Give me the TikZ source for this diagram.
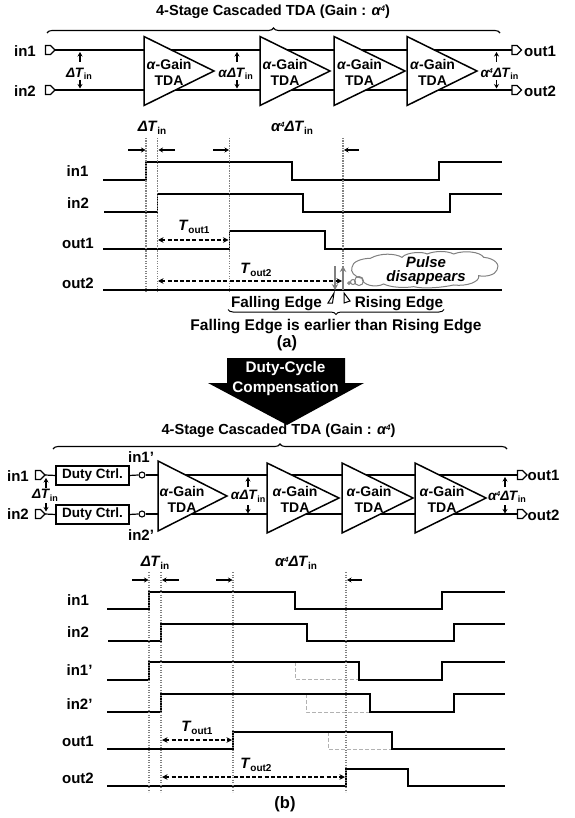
\documentclass[tikz,border=0pt]{standalone}
\usepackage{fontspec}
\setmainfont{Liberation Sans}
\usetikzlibrary{shapes.geometric,shapes.symbols,arrows.meta,backgrounds,decorations.pathreplacing}
\newcommand{\fs}[1]{\fontsize{#1}{#1}\selectfont}
\newcommand{\subsz}{10}
\newcommand{\supsz}{8}
\newcommand{\subt}[1]{\raisebox{-2.5pt}{\fs{\subsz}#1}}
\newcommand{\dTin}{\textit{Δ}\kern-.5pt\textit{T}\kern-.3pt\subt{in}}
\newcommand{\al}{\textit{α}}
\newcommand{\alfour}{\textit{α}\kern-.5pt\raisebox{4pt}{\fs{\supsz}\textit{4}}}
\newcommand{\tout}[1]{\textit{T}\kern-.3pt\subt{out#1}}
\tikzset{
 txt/.style={font=\bfseries\fs{14},inner sep=0,outer sep=0,align=center},
 lbl/.style={font=\bfseries\fs{15},inner sep=0,outer sep=0,align=center},
 dlt/.style={font={\renewcommand{\subsz}{9}\renewcommand{\supsz}{7}\bfseries\fs{13.6}},inner sep=0,outer sep=0,align=center},
 dlg/.style={font={\renewcommand{\subsz}{10}\renewcommand{\supsz}{7.5}\bfseries\fs{15}},inner sep=0,outer sep=0,align=center},
 ttl/.style={font=\bfseries\fs{14.6},inner sep=0,outer sep=0,align=center},
 tri/.style={draw,fill=white,line width=1.5pt,isosceles triangle,isosceles triangle stretches,inner sep=0,outer sep=0,minimum width=69pt,minimum height=70pt,anchor=apex},
 port/.style={draw,fill=white,line width=1.1pt,signal,signal to=east,signal from=nowhere,inner sep=0,outer sep=0,minimum width=9.5pt,minimum height=9pt},
 wire/.style={line width=1.2pt},
 wirethick/.style={line width=1.6pt},
 wave/.style={line width=1.4pt},
 waveb/.style={line width=1.8pt},
 dotl/.style={gray,dash pattern=on 1.2pt off 1.3pt,line width=1.2pt},
 ghost/.style={gray!60,dash pattern=on 4pt off 2pt,line width=1pt},
 tickarrow/.style={line width=1.2pt,-{Stealth[length=4.5pt,width=5pt]}},
 dimarrow/.style={line width=1.3pt,dash pattern=on 4pt off 2.2pt,{Stealth[length=5.5pt,width=5.5pt]}-{Stealth[length=5.5pt,width=5.5pt]}},
 bigbrace/.style={decorate,decoration={brace,amplitude=5pt},line width=1.1pt},
 grayarrow/.style={gray,line width=2pt,-{Stealth[length=6pt,width=6.5pt]}},
 pointer/.style={draw,fill=white,line width=1pt},
 dutybox/.style={draw,line width=1.6pt,inner sep=0,outer sep=0,minimum width=73pt,minimum height=19pt,font=\bfseries\fs{13.5}},
 openc/.style={circle,draw,fill=white,line width=1.1pt,inner sep=0,minimum size=6pt},
}
\begin{document}
\begin{tikzpicture}[x=1pt,y=-1pt]
\useasboundingbox (0,0) rectangle (574,818);
% ---- part (a) block
\node[ttl] (atitle) at (273,12) {4-Stage Cascaded TDA (Gain : \alfour)};
\coordinate (abl) at (47,33); \coordinate (abr) at (500,33);
\draw[bigbrace] (abl) -- (abr);
\node[lbl] (ain1) at (25,51.5) {in1};
\node[lbl] (ain2) at (25,91) {in2};
\node[port] (ap1) at (48,50) {};
\node[port] (ap2) at (48,90) {};
\node[tri] (aT1) at (214,71) {};
\node[tri] (aT2) at (330,71) {};
\node[tri,minimum height=71pt] (aT3) at (405,71) {};
\node[tri] (aT4) at (477,71) {};
\node[port] (ao1) at (514.5,50) {};
\node[port] (ao2) at (514.5,90) {};
\node[lbl] (aout1) at (540,51) {out1};
\node[lbl] (aout2) at (540,91) {out2};
\begin{scope}[on background layer]
\draw[wire] (ap1.east) -- (aT1.west |- ap1.east);
\draw[wire] (ap2.east) -- (aT1.west |- ap2.east);
\draw[wire] (aT1.west |- ap1.east) -- (aT2.west |- ap1.east);
\draw[wire] (aT1.west |- ap2.east) -- (aT2.west |- ap2.east);
\draw[wire] (aT2.west |- ap1.east) -- (aT3.west |- ap1.east);
\draw[wire] (aT2.west |- ap2.east) -- (aT3.west |- ap2.east);
\draw[wire] (aT3.west |- ap1.east) -- (aT4.west |- ap1.east);
\draw[wire] (aT3.west |- ap2.east) -- (aT4.west |- ap2.east);
\draw[wirethick] (aT4.west |- ao1.west) -- (ao1.west);
\draw[wire] (aT4.west |- ao2.west) -- (ao2.west);
\end{scope}
\foreach \n/\x in {1/169,2/285,3/359.5,4/432.5}{
  \node[txt] (atxt\n) at (\x,72) {\al-Gain\\[2pt]TDA};
}
\node[dlt] (ad1) at (79,74) {\dTin};
\node[dlt] (ad2) at (235.5,74) {\al\dTin};
\node[dlt] (ad3) at (499.5,74) {\alfour\dTin};
\foreach \x in {80,237,496.5}{
  \draw[tickarrow] (\x,62) -- (\x,52);
  \draw[tickarrow] (\x,80) -- (\x,88.5);
}
% ---- part (a) timing
\node[lbl] (al1) at (77.5,171) {in1};
\node[lbl] (al2) at (78,203) {in2};
\node[lbl] (al3) at (78,243) {out1};
\node[lbl] (al4) at (78,283) {out2};
\node[dlg] (adt) at (152,128) {\dTin};
\node[dlg] (adt4) at (292,128) {\alfour\dTin};
\draw[wave] (103,180) -- (146,180) -- (146,162) -- (292,162) -- (292,180) -- (439,180) -- (439,162) -- (502,162);
\draw[wave] (104,212) -- (157.5,212) -- (157.5,194) -- (303,194) -- (303,212) -- (450,212) -- (450,194) -- (502,194);
\draw[wave] (103,249) -- (229.5,249) -- (229.5,231) -- (325,231) -- (325,249) -- (502,249);
\draw[waveb] (103,290) -- (502,290);
\foreach \x/\b in {146/291,157.5/291,229.5/291,343/275}{\draw[dotl] (\x,138) -- (\x,\b);}
\draw[tickarrow] (128,150) -- (145.5,150);
\draw[tickarrow] (175,150) -- (158.5,150);
\draw[tickarrow] (213,150) -- (229,150);
\draw[tickarrow] (359,150) -- (344,150);
\coordinate (at1a) at (158,240); \coordinate (at1b) at (228.5,240);
\coordinate (at2a) at (158,281); \coordinate (at2b) at (342,281);
\draw[dimarrow] (at1a) -- (at1b);
\draw[dimarrow] (at2a) -- (at2b);
\node[dlg] (atl1) at (194,227) {\tout{1}};
\node[dlg] (atl2) at (256,270) {\tout{2}};
\draw[grayarrow] (335,266) -- (335,290);
\draw[grayarrow] (343,290) -- (343,266);
\draw[pointer] (334,293) -- (328,303) -- (332.5,303) -- cycle;
\draw[pointer] (344,293) -- (344,303) -- (350,301) -- cycle;
\node[font=\bfseries\fs{15.3},inner sep=0] (afall) at (276.5,303.5) {Falling Edge};
\node[font=\bfseries\fs{15.3},inner sep=0] (arise) at (399,303.5) {Rising Edge};
\draw[decorate,decoration={brace,amplitude=5pt,mirror},line width=1pt] (228,309.5) -- (444,309.5);
\node[font=\bfseries\fs{15.5},inner sep=0] (aearly) at (336,327) {Falling Edge is earlier than Rising Edge};
\node[lbl,font=\bfseries\fs{16.5}] (acap) at (287,343) {(a)};
\begin{scope}[shift={(287,130)},x=.3333pt,y=-.3333pt]
\draw[gray,fill=white,line width=1pt] (195,412)
 .. controls (195,395) and (225,385) .. (250,385)
 .. controls (280,368) and (325,370) .. (345,382)
 .. controls (360,365) and (410,365) .. (420,372)
 .. controls (445,362) and (480,362) .. (500,372)
 .. controls (530,360) and (580,365) .. (590,382)
 .. controls (625,385) and (640,405) .. (630,420)
 .. controls (625,435) and (595,442) .. (575,437)
 .. controls (580,455) and (540,470) .. (500,465)
 .. controls (470,472) and (410,478) .. (380,470)
 .. controls (350,475) and (310,472) .. (290,462)
 .. controls (265,475) and (225,465) .. (225,445)
 .. controls (200,440) and (190,425) .. (195,412) -- cycle;
\end{scope}
\node[align=center,inner sep=0,font=\bfseries\itshape\fontsize{15}{14}\selectfont] (apulse) at (426,271) {Pulse\\disappears};
\draw[gray,line width=1pt] (359,281) circle[radius=4.5pt];
\draw[gray,line width=1pt] (353,282) circle[radius=2.5pt];
\draw[gray,line width=1pt] (349,283) circle[radius=1.3pt];
% ---- big arrow
\fill[black] (227,358) -- (345,358) -- (345,383) -- (364,383) -- (287,425) -- (208,383) -- (227,383) -- cycle;
\node[lbl,font=\bfseries\fs{15.3},text=white] (bigt) at (285.5,378.5) {Duty-Cycle\\[4pt]Compensation};
% ---- part (b) block
\node[ttl] (btitle) at (278.5,431) {4-Stage Cascaded TDA (Gain : \alfour)};
\coordinate (bbl) at (53,449); \coordinate (bbr) at (507,449);
\draw[bigbrace] (bbl) -- (bbr);
\node[lbl] (bin1) at (18,476) {in1};
\node[lbl] (bin2) at (18,514.5) {in2};
\node[port] (bp1) at (38,475) {};
\node[port] (bp2) at (38,514) {};
\node[dutybox] (bd1) at (92.5,475.5) {Duty Ctrl.};
\node[dutybox] (bd2) at (92.5,514.5) {Duty Ctrl.};
\node[openc] (bc1) at (142,475) {};
\node[openc] (bc2) at (142,514) {};
\node[lbl] (binp1) at (141,457) {in1'};
\node[lbl] (binp2) at (141,535) {in2'};
\node[tri,minimum width=70pt,minimum height=69pt] (bT1) at (227,496) {};
\node[tri,minimum width=70pt,minimum height=72pt] (bT2) at (339,498) {};
\node[tri,minimum width=70pt,minimum height=71pt] (bT3) at (413,498) {};
\node[tri,minimum width=70pt,minimum height=71pt] (bT4) at (486,498) {};
\node[port] (bo1) at (520,475) {};
\node[port] (bo2) at (520,514) {};
\node[lbl] (bout1) at (543.5,475.5) {out1};
\node[lbl] (bout2) at (543.5,515) {out2};
\begin{scope}[on background layer]
\draw[wire] (bp1.east) -- (bd1.west);
\draw[wire] (bp2.east) -- (bd2.west);
\draw[wire] (bd1.east) -- (bc1.west);
\draw[wire] (bd2.east) -- (bc2.west);
\draw[wire] (bc1.east) -- (bT1.west |- bc1.east);
\draw[wire] (bc2.east) -- (bT1.west |- bc2.east);
\draw[wirethick] (bT1.west |- bc1.east) -- (bT2.west |- bc1.east);
\draw[wire] (bT1.west |- bc2.east) -- (bT2.west |- bc2.east);
\draw[wirethick] (bT2.west |- bc1.east) -- (bT3.west |- bc1.east);
\draw[wire] (bT2.west |- bc2.east) -- (bT3.west |- bc2.east);
\draw[wirethick] (bT3.west |- bc1.east) -- (bT4.west |- bc1.east);
\draw[wire] (bT3.west |- bc2.east) -- (bT4.west |- bc2.east);
\draw[wirethick] (bT4.west |- bo1.west) -- (bo1.west);
\draw[wire] (bT4.west |- bo2.west) -- (bo2.west);
\end{scope}
\foreach \n/\x in {1/182,2/295,3/369,4/442}{
  \node[txt] (btxt\n) at (\x,499) {\al-Gain\\[2pt]TDA};
}
\node[dlt] (bdl1) at (45,495.5) {\dTin};
\node[dlt] (bdl2) at (248,496.5) {\al\dTin};
\node[dlt] (bdl3) at (507,497) {\alfour\dTin};
\foreach \x/\s in {46/478,248/477,505/477}{
  \draw[tickarrow] (\x,\s+10) -- (\x,\s);
}
\foreach \x/\s in {46/503,248/505,505/505}{
  \draw[tickarrow] (\x,\s) -- (\x,\s+8.5);
}
% ---- part (b) timing
\node[lbl] (bl1) at (78,600) {in1};
\node[lbl] (bl2) at (78,632) {in2};
\node[lbl] (bl3) at (79.5,670) {in1'};
\node[lbl] (bl4) at (79.5,704) {in2'};
\node[lbl] (bl5) at (78,741) {out1};
\node[lbl] (bl6) at (78,778) {out2};
\node[dlg] (bdt) at (155,563) {\dTin};
\node[dlg] (bdt4) at (296,563) {\alfour\dTin};
\draw[ghost] (295,662) -- (295,679) -- (359,679);
\draw[ghost] (306,694) -- (306,712) -- (370,712);
\draw[ghost] (328,732) -- (328,749) -- (392,749);
\draw[wave] (107,609) -- (149,609) -- (149,592) -- (295,592) -- (295,609) -- (442,609) -- (442,592) -- (505,592);
\draw[wave] (108,641) -- (161,641) -- (161,624) -- (307,624) -- (307,641) -- (454,641) -- (454,624) -- (505,624);
\draw[wave] (107,680) -- (149,680) -- (149,662) -- (359,662) -- (359,680) -- (442,680) -- (442,662) -- (505,662);
\draw[wave] (107,712) -- (161,712) -- (161,694) -- (370,694) -- (370,712) -- (454,712) -- (454,694) -- (505,694);
\draw[wave] (107,749) -- (233,749) -- (233,732) -- (392,732) -- (392,749) -- (505,749);
\draw[wave] (107,786) -- (346,786) -- (346,769) -- (408,769) -- (408,786) -- (505,786);
\foreach \x in {149,161,233,346}{\draw[dotl] (\x,572) -- (\x,792);}
\draw[tickarrow] (132,580) -- (148.5,580);
\draw[tickarrow] (179,580) -- (162,580);
\draw[tickarrow] (216,580) -- (232.5,580);
\draw[tickarrow] (362,580) -- (347,580);
\coordinate (bt1a) at (162,740); \coordinate (bt1b) at (232,740);
\coordinate (bt2a) at (162,777); \coordinate (bt2b) at (345,777);
\draw[dimarrow] (bt1a) -- (bt1b);
\draw[dimarrow] (bt2a) -- (bt2b);
\node[dlg] (btl1) at (197,728) {\tout{1}};
\node[dlg] (btl2) at (256,765) {\tout{2}};
\node[lbl,font=\bfseries\fs{16.5}] (bcap) at (285,804) {(b)};
\end{tikzpicture}
\end{document}
